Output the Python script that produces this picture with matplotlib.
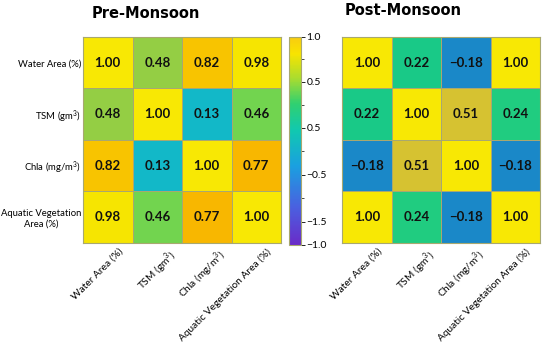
import matplotlib
matplotlib.use("Agg")
import matplotlib.pyplot as plt
import numpy as np
from matplotlib.colors import LinearSegmentedColormap, Normalize

labels = ["Water Area (%)", "TSM (gm$^3$)", "Chla (mg/m$^3$)", "Aquatic Vegetation Area (%)"]
ylabels = ["Water Area (%)", "TSM (gm$^3$)", "Chla (mg/m$^3$)", "Aquatic Vegetation\nArea (%)"]

pre = np.array([[1.00, 0.48, 0.82, 0.98],
                [0.48, 1.00, 0.13, 0.46],
                [0.82, 0.13, 1.00, 0.77],
                [0.98, 0.46, 0.77, 1.00]])
post = np.array([[1.00, 0.22, -0.18, 1.00],
                 [0.22, 1.00, 0.51, 0.24],
                 [-0.18, 0.51, 1.00, -0.18],
                 [1.00, 0.24, -0.18, 1.00]])

cbar_ticks = [1.0, 0.567, 0.125, -0.327, -0.779, -1.0]
cbar_ticklabels = ["1.0", "0.5", "0.5", "\u22120.5", "\u22121.5", "\u22121.0"]

# cell colormap, tuned so the values land on the colours seen in the figure
nodes = [(-1.0, "#6a2bc8"), (-0.5, "#3a6ee0"), (-0.18, "#1a88c8"), (0.13, "#12b8c8"),
         (0.22, "#18c888"), (0.24, "#20cc80"), (0.47, "#76d44c"), (0.51, "#d6c232"),
         (0.77, "#f8b600"), (0.82, "#f8c400"), (0.98, "#f6e400"), (1.0, "#f8e804")]
cell_cmap = LinearSegmentedColormap.from_list(
    "cells", [((v + 1) / 2, c) for v, c in nodes])

# smooth colormap for the bar
bar_cmap = LinearSegmentedColormap.from_list(
    "bar", [(0.0, "#6a2bc8"), (0.18, "#4a60e0"), (0.38, "#1aa0e0"), (0.55, "#10c8b0"),
            (0.68, "#30d070"), (0.8, "#a8dc30"), (0.92, "#f8e400"), (1.0, "#f8cc10")])

norm = Normalize(-1, 1)
edge = "#a8a870"
fnt = "Lato"
plt.rcParams["mathtext.fontset"] = "custom"
plt.rcParams["mathtext.rm"] = fnt

fig = plt.figure(figsize=(5.5, 3.48), dpi=100)
ax1 = fig.add_axes([0.151, 0.302, 0.36, 0.592])
ax2 = fig.add_axes([0.622, 0.302, 0.36, 0.592])
cax = fig.add_axes([0.525, 0.296, 0.022, 0.598])

def heat(ax, data, show_y):
    ax.pcolormesh(data, cmap=cell_cmap, norm=norm, edgecolors=edge, linewidth=0.6)
    ax.set_xlim(0, 4)
    ax.set_ylim(4, 0)
    for i in range(4):
        for j in range(4):
            ax.text(j + 0.5, i + 0.5, f"{data[i, j]:.2f}".replace("-", "\u2212"),
                    ha="center", va="center", fontsize=9.5, fontweight="bold",
                    color="#111111", family=fnt)
    ax.set_xticks(np.arange(4) + 0.5)
    ax.set_xticklabels([])
    for j, lab in enumerate(labels):
        ax.annotate(lab, xy=(j + 0.5, 0), xycoords=("data", "axes fraction"),
                    xytext=(7.5, -3), textcoords="offset points", rotation=45,
                    ha="right", va="top", rotation_mode="anchor",
                    fontsize=7.3, family=fnt)
    ax.set_yticks(np.arange(4) + 0.5)
    if show_y:
        ax.set_yticklabels(ylabels, fontsize=6.8, family=fnt, multialignment="center")
        ax.tick_params(axis="y", pad=1.5)
    else:
        ax.set_yticklabels([])
    ax.tick_params(length=0)
    for s in ax.spines.values():
        s.set_color(edge)
        s.set_linewidth(0.8)

heat(ax1, pre, True)
heat(ax2, post, False)

sm = plt.cm.ScalarMappable(norm=norm, cmap=bar_cmap)
cb = fig.colorbar(sm, cax=cax)
cb.set_ticks(cbar_ticks)
cb.set_ticklabels(cbar_ticklabels)
cb.ax.tick_params(labelsize=7.5, length=3, width=0.6, pad=1)
cb.ax.set_yticks([0.79, 0.35, -0.1, -0.55], minor=True)
cb.ax.tick_params(which="minor", length=2, width=0.5)
cb.outline.set_edgecolor(edge)
cb.outline.set_linewidth(0.8)
for t in cb.ax.get_yticklabels():
    t.set_family(fnt)

fig.text(0.265, 0.962, "Pre-Monsoon", ha="center", va="center", fontsize=10.5,
         fontweight="bold", family="DejaVu Sans")
fig.text(0.733, 0.971, "Post-Monsoon", ha="center", va="center", fontsize=10.5,
         fontweight="bold", family="DejaVu Sans")

fig.savefig("out.png", dpi=100)
